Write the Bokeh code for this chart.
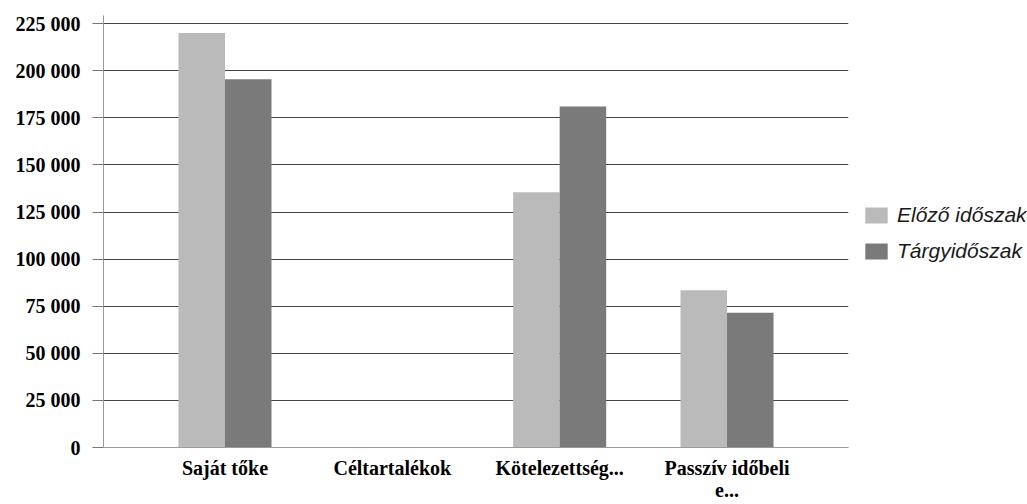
from bokeh.plotting import figure
from bokeh.models import FactorRange, Range1d, FixedTicker, Legend, LegendItem, ColumnDataSource
from bokeh.transform import dodge
from bokeh.embed import file_html
from bokeh.resources import INLINE

categories = ["Saját tőke", "Céltartalékok", "Kötelezettség...", "Passzív időbeli\ne..."]
elozo = [220000, 0, 135500, 83500]
targy = [195500, 0, 181000, 71500]
series_names = ["Előző időszak", "Tárgyidőszak"]
y_ticks = [0, 25000, 50000, 75000, 100000, 125000, 150000, 175000, 200000, 225000]
y_tick_labels = ["0", "25 000", "50 000", "75 000", "100 000", "125 000",
                 "150 000", "175 000", "200 000", "225 000"]

source = ColumnDataSource(dict(cat=categories, elozo=elozo, targy=targy))

p = figure(frame_width=745, frame_height=432, output_backend="svg", toolbar_location=None,
           x_range=FactorRange(factors=categories, range_padding=0.226,
                               range_padding_units="absolute"),
           y_range=Range1d(0, 229300),
           min_border_left=103, min_border_right=176, min_border_top=15,
           min_border_bottom=55)
p.outline_line_color = None
p.background_fill_color = "white"

light = p.vbar(x=dodge("cat", -0.139, range=p.x_range), top="elozo", width=0.278,
               source=source, fill_color="#bababa", line_color=None)
dark = p.vbar(x=dodge("cat", 0.139, range=p.x_range), top="targy", width=0.278,
              source=source, fill_color="#7a7a7a", line_color=None)

# y axis
p.yaxis.ticker = FixedTicker(ticks=y_ticks)
p.yaxis.major_label_overrides = {t: l for t, l in zip(y_ticks, y_tick_labels)}
p.yaxis.major_label_text_font = "Liberation Serif"
p.yaxis.major_label_text_font_style = "bold"
p.yaxis.major_label_text_font_size = "20px"
p.yaxis.major_label_text_color = "black"
p.yaxis.axis_line_color = "#9a9a9a"
p.yaxis.major_tick_line_color = "#777777"
p.yaxis.major_tick_out = 11
p.yaxis.major_tick_in = 0
p.yaxis.minor_tick_line_color = None
p.yaxis.major_label_standoff = 12

# x axis
p.xaxis.major_label_text_font = "Liberation Serif"
p.xaxis.major_label_text_font_style = "bold"
p.xaxis.major_label_text_font_size = "20px"
p.xaxis.major_label_text_color = "black"
p.xaxis.major_label_text_line_height = 1.0
p.xaxis.axis_line_color = "#9a9a9a"
p.xaxis.major_tick_line_color = None
p.xaxis.minor_tick_line_color = None
p.xaxis.major_label_standoff = 3

p.xgrid.grid_line_color = None
p.ygrid.ticker = FixedTicker(ticks=y_ticks)
p.ygrid.grid_line_color = "#444444"
p.ygrid.grid_line_width = 1

legend = Legend(items=[LegendItem(label=series_names[0], renderers=[light]),
                       LegendItem(label=series_names[1], renderers=[dark])],
                location=(14, 184), margin=0, padding=0, spacing=12,
                border_line_color=None, background_fill_alpha=0,
                label_text_font="Liberation Sans", label_text_font_style="italic",
                label_text_font_size="21px", label_text_color="#1a1a1a",
                glyph_width=28, glyph_height=20, label_standoff=7)
p.add_layout(legend, "right")

open("out.html", "w").write(file_html(p, INLINE))
